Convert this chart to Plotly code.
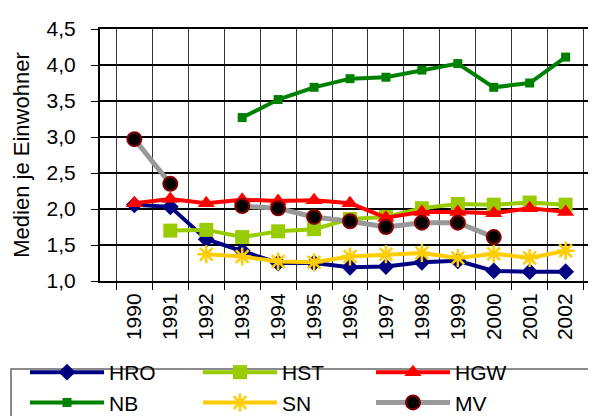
import plotly.graph_objects as go

years = [str(y) for y in range(1990, 2003)]

hro = [2.06, 2.03, 1.58, 1.42, 1.25, 1.25, 1.19, 1.20, 1.26, 1.28, 1.14, 1.13, 1.13]
hst = [None, 1.70, 1.71, 1.61, 1.69, 1.72, 1.86, 1.89, 2.01, 2.07, 2.06, 2.09, 2.06]
hgw = [2.08, 2.14, 2.08, 2.13, 2.11, 2.12, 2.08, 1.88, 1.96, 1.96, 1.94, 2.01, 1.96]
nb = [None, None, None, 3.27, 3.52, 3.69, 3.81, 3.83, 3.93, 4.02, 3.69, 3.75, 4.11]
sn = [None, None, 1.37, 1.34, 1.27, 1.26, 1.34, 1.37, 1.39, 1.32, 1.38, 1.32, 1.42]
mv = [2.97, 2.35, None, 2.04, 2.01, 1.89, 1.83, 1.75, 1.81, 1.81, 1.61, None, None]

y_ticks = [1.0, 1.5, 2.0, 2.5, 3.0, 3.5, 4.0, 4.5]
y_tick_labels = ["1,0", "1,5", "2,0", "2,5", "3,0", "3,5", "4,0", "4,5"]

FONT = "Liberation Sans, Arial, sans-serif"

W, H = 596, 416
PL, PR, PT, PB = 92, 592, 21, 273  # plot area in pixels

fig = go.Figure()

def add(name, vals, lc, lw, symbol, msize, mcolor, mlc=None, mlw=0):
    fig.add_trace(go.Scatter(
        x=years, y=vals, name=name, mode="lines+markers",
        line=dict(color=lc, width=lw),
        marker=dict(symbol=symbol, size=msize, color=mcolor,
                    line=dict(color=mlc if mlc else mcolor, width=mlw)),
        connectgaps=False,
    ))

add("HRO", hro, "#000080", 4, "diamond", 13, "#000080")
add("HST", hst, "#99CC00", 4, "square", 14, "#99CC00")
add("HGW", hgw, "#FF0000", 4, "triangle-up", 15, "#FF0000")
add("NB", nb, "#008000", 4, "square", 9, "#008000")
add("SN", sn, "#FFCC00", 4, "asterisk-open", 15, "#FFCC00", "#FFCC00", 2.5)
add("MV", mv, "#999999", 5, "circle", 14, "#000000", "#800000", 2)

def px_x(p):
    return (p - PL) / (PR - PL)

def px_y(p):
    return (PB - p) / (PB - PT)

fig.update_layout(
    width=W, height=H,
    margin=dict(l=PL, r=W - PR, t=PT, b=H - PB, autoexpand=False),
    paper_bgcolor="white", plot_bgcolor="white",
    font=dict(family=FONT, size=21, color="black"),
    showlegend=True,
    legend=dict(
        orientation="h",
        xref="paper", yref="paper",
        x=px_x(17), y=px_y(344), xanchor="left", yanchor="top",
        borderwidth=0, bgcolor="rgba(0,0,0,0)",
        font=dict(family=FONT, size=21, color="black"),
        entrywidth=84, entrywidthmode="pixels",
        itemwidth=74,
        tracegroupgap=0,
    ),
    shapes=[dict(
        type="rect", xref="paper", yref="paper",
        x0=px_x(3), x1=px_x(605), y0=px_y(361), y1=px_y(425),
        line=dict(color="#666666", width=1.5), fillcolor="rgba(0,0,0,0)",
        layer="below",
    )],
)

fig.update_xaxes(
    type="category",
    tickangle=-90,
    tickson="boundaries",
    ticks="outside", ticklen=7, tickcolor="black",
    showgrid=True, gridcolor="#333333", gridwidth=1,
    showline=True, linecolor="black", linewidth=2, mirror=True,
    tickfont=dict(family=FONT, size=21),
    ticklabelstandoff=2,
)
fig.update_yaxes(
    range=[1.0, 4.5],
    tickvals=y_ticks, ticktext=y_tick_labels,
    ticks="outside", ticklen=7, tickcolor="black",
    showgrid=True, gridcolor="black", gridwidth=2,
    showline=True, linecolor="black", linewidth=2, mirror=True,
    zeroline=False,
    ticklabelstandoff=11,
    title=dict(text="Medien je Einwohner", font=dict(family=FONT, size=22), standoff=11),
    tickfont=dict(family=FONT, size=21),
)

fig.write_html("out.html")
